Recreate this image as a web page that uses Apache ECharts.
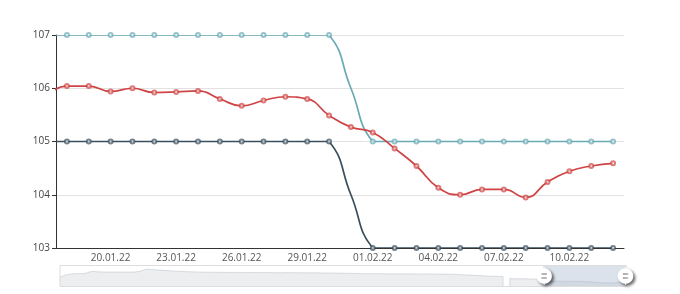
<!DOCTYPE html>
<html><head><meta charset="utf-8">
<script src="https://cdn.jsdelivr.net/npm/echarts@6/dist/echarts.min.js"></script>
<style>html,body{margin:0;padding:0;background:#fff}#c{width:680px;height:294px}</style>
</head><body><div id="c"></div>
<script>
// ---- data ----
const firstDay = [2021, 7, 26];      // 26.08.21, first category
const dayCount = 171;                // daily categories up to 12.02.22
const yTicks = [103, 104, 105, 106, 107];

// price history before the visible window (shown in the zoom slider shadow)
const priceHistory = [
  110.4, 112.0, 113.5, 114.1, 114.6, 114.7, 114.8, 114.8, 115.4, 116.6,
  117.4, 117.0, 116.8, 116.7, 116.6, 116.6, 116.7, 116.6, 116.6, 116.5,
  116.6, 116.6, 116.6, 116.8, 117.4, 118.6, 119.95, 119.8, 119.5, 119.2,
  118.9, 118.6, 118.3, 118.1, 117.8, 117.6, 117.4, 117.2, 117.0, 116.9,
  116.8, 116.7, 116.6, 116.5, 116.4, 116.3, 116.3, 116.3, 116.2, 116.3,
  116.2, 116.2, 116.1, 116.2, 116.1, 116.1, 116.0, 116.1, 116.0, 116.0,
  115.9, 116.0, 115.9, 115.9, 115.8, 115.9, 115.8, 115.8, 115.9, 115.8,
  115.8, 115.7, 115.8, 115.7, 115.7, 115.6, 115.7, 115.6, 115.6, 115.5,
  115.5, 115.4, 115.5, 115.4, 115.3, 115.3, 115.2, 115.1, 115.0, 114.9,
  114.8, 114.8, 114.7, 114.7, 114.6, 114.7, 114.6, 114.6, 114.5, 114.6,
  114.6, 114.5, 114.6, 114.5, 114.5, 114.4, 114.5, 114.4, 114.4, 114.3,
  114.4, 114.3, 114.3, 114.2, 114.3, 114.2, 114.2, 114.1, 114.0, 113.8,
  113.6, 113.4, 113.2, 113.0, 112.8, 112.6, 112.4, 112.2, 112.0, 111.8,
  111.7, 111.6, 111.5, 111.4, null,
  108.9, 108.8, 108.8, 108.7, 108.8, 108.7, 108.6, 108.6, 108.0, 105.88
];
// visible window 18.01.22 .. 12.02.22
const priceWindow = [
  106.04, 106.04, 105.94, 106.00, 105.92, 105.93, 105.95, 105.80, 105.67, 105.77,
  105.84, 105.80, 105.49, 105.27, 105.17, 104.87, 104.54, 104.13, 104.00, 104.10,
  104.10, 103.95, 104.24, 104.44, 104.54, 104.59
];
// upper / lower band: previous day + visible window
const upperBand = [107, 107,107,107,107,107,107,107,107,107,107,107,107,107, 106,
  105,105,105,105,105,105,105,105,105,105,105,105];
const lowerBand = [105, 105,105,105,105,105,105,105,105,105,105,105,105,105, 104,
  103,103,103,103,103,103,103,103,103,103,103,103];

// ---- build ----
const categories = [];
const t0 = Date.UTC(firstDay[0], firstDay[1], firstDay[2]);
for (let i = 0; i < dayCount; i++) {
  const d = new Date(t0 + i * 86400000);
  const dd = String(d.getUTCDate()).padStart(2, '0');
  const mm = String(d.getUTCMonth() + 1).padStart(2, '0');
  const yy = String(d.getUTCFullYear()).slice(2);
  categories.push(dd + '.' + mm + '.' + yy);
}
const price = priceHistory.concat(priceWindow);
const pad = n => Array(n).fill(null);
const upper = pad(dayCount - upperBand.length).concat(upperBand);
const lower = pad(dayCount - lowerBand.length).concat(lowerBand);
const winStart = dayCount - priceWindow.length;
const stepIdx = winStart + 13;
const bandSymbol = (v, p) => (p.dataIndex === stepIdx ? 'none' : 'emptyCircle');

const RED = '#cf4545', DARK = '#3a4f5e', TEAL = '#6aaab2';
const LW = 1.7;

// smooth curve through the band points (classic bezier smoothing), positioned by the axes
function bandCurve(values, color) {
  return function (params, api) {
    const pts = [];
    for (let i = 0; i < values.length; i++) {
      if (values[i] != null) pts.push(api.coord([i, values[i]]));
    }
    const mn = [Infinity, Infinity], mx = [-Infinity, -Infinity];
    pts.forEach(p => { mn[0] = Math.min(mn[0], p[0]); mn[1] = Math.min(mn[1], p[1]);
                       mx[0] = Math.max(mx[0], p[0]); mx[1] = Math.max(mx[1], p[1]); });
    const cs = params.coordSys;
    return {
      type: 'polyline',
      shape: {points: pts, smooth: 0.5, smoothConstraint: [mn, mx]},
      style: {fill: null, stroke: color, lineWidth: LW, lineJoin: 'round'},
      clipPath: {type: 'rect', shape: {x: cs.x, y: cs.y, width: cs.width, height: cs.height}},
      silent: true
    };
  };
}

const symbolStyle = {borderWidth: 1.2, opacity: 0.7};

const chart = echarts.init(document.getElementById('c'), null, {renderer: 'canvas'});
chart.setOption({
  animation: false,
  grid: {left: 56, right: 56, top: 35, bottom: 46, containLabel: false},
  xAxis: {
    type: 'category', data: categories, boundaryGap: true,
    axisLine: {lineStyle: {color: '#333', width: 1}},
    axisTick: {interval: 2, length: 4, lineStyle: {color: '#333'}},
    axisLabel: {interval: 2, fontSize: 10, color: '#555', margin: 5, fontFamily: 'Open Sans'},
    splitLine: {show: false}
  },
  yAxis: {
    type: 'value', min: yTicks[0], max: yTicks[yTicks.length - 1], interval: 1,
    axisLine: {show: true, lineStyle: {color: '#333', width: 1}},
    axisTick: {show: true, length: 4, lineStyle: {color: '#333'}},
    axisLabel: {fontSize: 10, color: '#444', margin: 6, fontFamily: 'Open Sans'},
    splitLine: {lineStyle: {color: '#e2e2e2', width: 1}}
  },
  dataZoom: [{
    type: 'slider', xAxisIndex: 0, startValue: winStart, endValue: dayCount - 1,
    filterMode: 'none', left: 57, right: 56, bottom: 7, height: 22,
    showDetail: false, brushSelect: false, moveHandleSize: 0,
    handleIcon: 'path://M10.7,11.9v-1.3H9.3v1.3c-4.9,0.3-8.8,4.4-8.8,9.4c0,5,3.9,9.1,8.8,9.4v1.3h1.3v-1.3c4.9-0.3,8.8-4.4,8.8-9.4C19.5,16.3,15.6,12.2,10.7,11.9z M13.3,24.4H6.7V23h6.6V24.4z M13.3,19.6H6.7v-1.4h6.6V19.6z',
    handleSize: '80%',
    handleStyle: {color: '#fff', borderWidth: 0, shadowBlur: 3, shadowColor: 'rgba(0,0,0,0.6)', shadowOffsetX: 2, shadowOffsetY: 2},
    fillerColor: 'rgba(167,183,204,0.4)',
    borderColor: '#ddd',
    backgroundColor: 'rgba(47,69,84,0)',
    dataBackground: {lineStyle: {color: '#2f4554', width: 0.5, opacity: 0.3}, areaStyle: {color: 'rgba(47,69,84,0.3)', opacity: 0.3}},
    selectedDataBackground: {lineStyle: {color: '#2f4554', width: 0.5, opacity: 0.3}, areaStyle: {color: 'rgba(47,69,84,0.3)', opacity: 0.3}}
  }],
  series: [
    {name: 'price', type: 'line', data: price, smooth: true, symbol: 'emptyCircle', symbolSize: 4,
     showAllSymbol: true, color: RED, lineStyle: {width: LW, color: RED}, itemStyle: Object.assign({color: RED}, symbolStyle), z: 3},
    {name: 'lower', type: 'line', data: lower, symbol: bandSymbol, symbolSize: 4, showAllSymbol: true,
     color: DARK, lineStyle: {opacity: 0}, itemStyle: Object.assign({color: DARK}, symbolStyle), z: 4},
    {name: 'upper', type: 'line', data: upper, symbol: bandSymbol, symbolSize: 4, showAllSymbol: true,
     color: TEAL, lineStyle: {opacity: 0}, itemStyle: Object.assign({color: TEAL}, symbolStyle), z: 4},
    {name: 'lowerCurve', type: 'custom', data: [[winStart, 105]], renderItem: bandCurve(lower, DARK), z: 2, silent: true},
    {name: 'upperCurve', type: 'custom', data: [[winStart, 107]], renderItem: bandCurve(upper, TEAL), z: 2, silent: true}
  ]
});
</script>
</body></html>
